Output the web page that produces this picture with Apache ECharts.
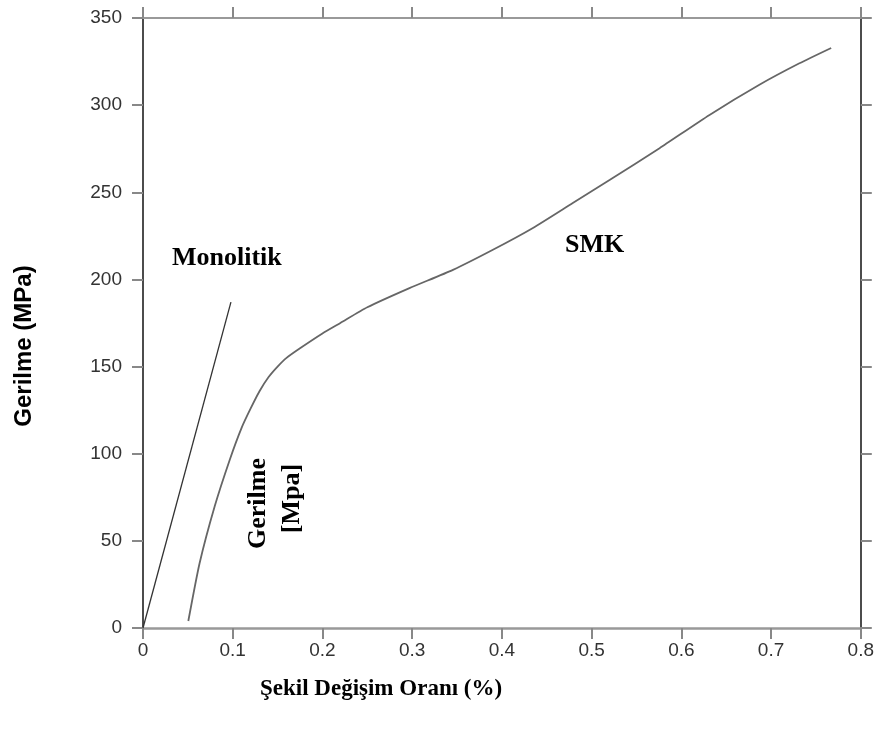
<!DOCTYPE html>
<html>
<head>
<meta charset="utf-8">
<script src="https://cdn.jsdelivr.net/npm/echarts@6/dist/echarts.min.js"></script>
<style>
  html, body { margin: 0; padding: 0; background: #fff; }
  #chart { width: 877px; height: 729px; }
</style>
</head>
<body>
<div id="chart"></div>
<script>
// Şekil değişim oranı (%) - gerilme (MPa)
var xTicks = [0, 0.1, 0.2, 0.3, 0.4, 0.5, 0.6, 0.7, 0.8];
var yTicks = [0, 50, 100, 150, 200, 250, 300, 350];

// Monolitik: düz çizgi
var monoStrain = [0, 0.098];
var monoStress = [0, 187];

// SMK eğrisi
var smkStrain = [0.0505, 0.063, 0.08, 0.097, 0.11, 0.12, 0.13, 0.14, 0.15, 0.16, 0.175, 0.2, 0.22,
  0.25, 0.297, 0.3455, 0.39, 0.4346, 0.479, 0.52, 0.5757, 0.6314, 0.687, 0.7316, 0.767];
var smkStress = [4, 37, 70, 97, 115, 126, 136, 144, 150, 155, 160.5, 169, 175,
  184, 195, 205.5, 217, 229.5, 243.8, 257, 275.3, 294.4, 311.7, 324, 332.8];

function pairs(xs, ys) {
  var out = [];
  for (var i = 0; i < xs.length; i++) out.push([xs[i], ys[i]]);
  return out;
}

var chart = echarts.init(document.getElementById('chart'));

var tickFont = '"Liberation Sans", Arial, sans-serif';

function boxAxis(pos, min, max, step, lineColor, lineWidth, labelMargin) {
  return {
    type: 'value', position: pos, min: min, max: max, interval: step,
    axisLine: { show: true, onZero: false, lineStyle: { color: lineColor, width: lineWidth } },
    axisTick: { show: true, inside: false, length: 11, lineStyle: { color: '#888', width: 2 } },
    axisLabel: labelMargin ? {
      margin: labelMargin, fontFamily: tickFont, fontSize: 19, color: '#333'
    } : { show: false },
    splitLine: { show: false }
  };
}

var serifBold = '"Liberation Serif", "Times New Roman", serif';

var option = {
  animation: false,
  grid: { left: 143, top: 18, right: 15, bottom: 101, containLabel: false },
  xAxis: [
    boxAxis('bottom', 0, 0.8, 0.1, '#999', 2.5, 13),
    boxAxis('top', 0, 0.8, 0.1, '#999', 2, 0)
  ],
  yAxis: [
    boxAxis('left', 0, 350, 50, '#111', 1.5, 21),
    boxAxis('right', 0, 350, 50, '#111', 1.5, 0)
  ],
  graphic: [{
    type: 'text', x: 260, y: 689,
    style: { text: 'Şekil Değişim Oranı (%)', font: 'bold 23px ' + serifBold, fill: '#000', verticalAlign: 'middle' }
  }, {
    type: 'text', x: 24, y: 346, rotation: Math.PI / 2,
    style: { text: 'Gerilme (MPa)', font: 'bold 24px "Liberation Sans", Arial, sans-serif', fill: '#000', align: 'center', verticalAlign: 'middle' }
  }, {
    type: 'text', x: 172, y: 258,
    style: { text: 'Monolitik', font: 'bold 26px ' + serifBold, fill: '#000', verticalAlign: 'middle' }
  }, {
    type: 'text', x: 565, y: 245,
    style: { text: 'SMK', font: 'bold 26px ' + serifBold, fill: '#000', verticalAlign: 'middle' }
  }, {
    type: 'text', x: 258, y: 503.5, rotation: Math.PI / 2,
    style: { text: 'Gerilme', font: 'bold 26px ' + serifBold, fill: '#000', align: 'center', verticalAlign: 'middle' }
  }, {
    type: 'text', x: 292, y: 498.5, rotation: Math.PI / 2,
    style: { text: '[Mpa]', font: 'bold 26px ' + serifBold, fill: '#000', align: 'center', verticalAlign: 'middle' }
  }],
  series: [{
    name: 'Monolitik', type: 'line', xAxisIndex: 0, yAxisIndex: 0,
    data: pairs(monoStrain, monoStress), showSymbol: false,
    lineStyle: { color: '#333', width: 1.3 }
  }, {
    name: 'SMK', type: 'line', xAxisIndex: 0, yAxisIndex: 0, smooth: 0.2,
    data: pairs(smkStrain, smkStress), showSymbol: false,
    lineStyle: { color: '#666', width: 1.8 }
  }]
};
chart.setOption(option);
</script>
</body>
</html>
